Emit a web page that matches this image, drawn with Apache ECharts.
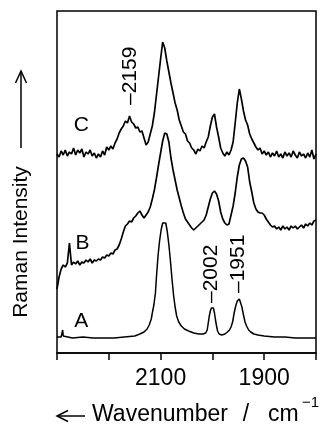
<!DOCTYPE html>
<html>
<head>
<meta charset="utf-8">
<script src="https://cdn.jsdelivr.net/npm/echarts@6/dist/echarts.min.js"></script>
<style>
html,body{margin:0;padding:0;background:#fff;}
#chart{width:326px;height:426px;}
</style>
</head>
<body>
<div id="chart"></div>
<script>
// ---- DATA (intensity in arbitrary units) ----
const wavenumbers = [
2300,2296,2292,2288,2284,2280,2276,2272,2268,2264,
2260,2256,2252,2248,2244,2240,2236,2232,2228,2224,
2220,2216,2212,2208,2204,2200,2196,2192,2188,2184,
2180,2176,2172,2168,2164,2160,2156,2152,2148,2144,
2140,2136,2132,2128,2124,2120,2116,2112,2108,2104,
2100,2096,2092,2088,2084,2080,2076,2072,2068,2064,
2060,2056,2052,2048,2044,2040,2036,2032,2028,2024,
2020,2016,2012,2008,2004,2000,1996,1992,1988,1984,
1980,1976,1972,1968,1964,1960,1956,1952,1948,1944,
1940,1936,1932,1928,1924,1920,1916,1912,1908,1904,
1900,1896,1892,1888,1884,1880,1876,1872,1868,1864,
1860,1856,1852,1848,1844,1840,1836,1832,1828,1824,
1820,1816,1812,1808,1804,1800];

const spectrumC = [
199,196,202,198,203,197,201,199,205,198,
203,200,204,196,201,199,203,197,200,195,
199,196,202,198,206,203,207,204,210,214,
220,224,227,232,230,237,231,229,225,226,
221,222,215,208,211,219,227,240,258,276,
294,311,305,292,281,270,260,250,243,233,
227,221,219,212,210,205,203,199,204,202,
207,205,211,216,227,236,239,226,216,205,
200,197,201,198,203,211,230,250,264,254,
242,233,228,219,214,210,206,203,205,199,
202,198,201,196,200,197,202,196,199,195,
201,197,200,196,202,198,195,201,197,199,
195,200,196,203,194,199];

const spectrumB = [
64,76,84,88,86,90,110,88,91,89,
92,88,91,90,93,91,94,90,93,92,
94,93,96,95,98,97,100,99,103,104,
108,114,121,127,129,132,131,135,137,140,
142,138,135,138,141,146,154,163,175,188,
200,212,220,219,211,195,183,173,163,155,
147,140,134,131,128,125,123,125,127,129,
131,133,138,146,154,160,162,159,152,141,
134,130,128,129,138,147,160,176,188,194,
195,192,186,171,161,150,144,141,140,140,
138,134,131,128,126,127,124,126,123,127,
124,126,123,127,125,127,124,126,128,125,
129,127,130,128,132,133];

const wavenumbersA = [
2300,2292,2290,2289,2288,2286,2270,2250,2230,2210,
2190,2170,2150,2140,2132,2126,2122,2118,2116,2113,
2110,2108,2105,2102,2099,2096,2093,2090,2087,2084,
2081,2078,2075,2072,2069,2065,2060,2054,2046,2036,
2026,2018,2013,2010,2008,2006,2004,2002,2000,1998,
1996,1994,1992,1990,1987,1982,1976,1971,1967,1964,
1961,1958,1955,1952,1950,1948,1946,1943,1940,1937,
1934,1930,1926,1920,1912,1900,1880,1860,1840,1820,
1800];
const spectrumA = [
16,16,18,23,17,16,15,16,15,15,
15,16,17,19,21,24,28,34,40,48,
60,76,97,112,123,130,132,130,121,108,
92,74,58,46,37,31,27,24,22,20,
19,19,20,23,30,37,42,45,47,45,
40,33,27,22,19,18,19,21,23,26,
31,40,47,52,54,54,52,46,38,31,
27,23,21,19,18,17,16,16,15,15,
15];

const traceNames = ['A','B','C'];
const peakWavenumbers = [2159, 2002, 1951];
const tickLabels = [2100, 1900];

// ---- CHART ----
const FONT = 'Liberation Sans';
const pairs = (xs, ys) => xs.map((x, i) => [x, ys[i]]);
const chart = echarts.init(document.getElementById('chart'), null, {renderer: 'canvas'});

const lineSeries = (name, data, width) => ({
  name, type: 'line', data, symbol: 'none', smooth: false, animation: false,
  lineStyle: {color: '#000', width: width}, z: 3
});

chart.setOption({
  backgroundColor: '#fff',
  animation: false,
  grid: {left: 57, right: 10, top: 11, bottom: 73, show: true,
         borderColor: '#000', borderWidth: 1.5, backgroundColor: 'transparent'},
  xAxis: {
    type: 'value', inverse: true, min: 1800, max: 2300, interval: 100,
    axisLine: {show: true, lineStyle: {color: '#000', width: 1.5}},
    axisTick: {show: true, inside: false, length: 7, lineStyle: {color: '#000', width: 1.5}},
    axisLabel: {show: true, margin: 14, color: '#000', fontFamily: FONT, fontSize: 23,
      formatter: v => tickLabels.includes(v) ? String(v) : ''},
    splitLine: {show: false}
  },
  yAxis: {type: 'value', min: 0, max: 342, show: false, splitLine: {show: false}},
  series: [
    lineSeries(traceNames[0], pairs(wavenumbersA, spectrumA), 1.5),
    lineSeries(traceNames[1], pairs(wavenumbers, spectrumB), 1.7),
    lineSeries(traceNames[2], pairs(wavenumbers, spectrumC), 1.7)
  ]
});

// annotations placed through the chart's own scales
const toPx = (w, h) => chart.convertToPixel({gridIndex: 0}, [w, h]);
const graphics = [];
const peakAnchorHeights = [248, 50, 60];
peakWavenumbers.forEach((w, i) => {
  const p = toPx(w, peakAnchorHeights[i]);
  graphics.push({type: 'text', x: p[0], y: p[1], rotation: Math.PI / 2,
    style: {text: '\u2013' + w, font: '21px "' + FONT + '"', fill: '#000',
            align: 'left', verticalAlign: 'middle'}});
});
const nameAnchors = [[2253, 31.5], [2251, 110], [2253, 228]];
traceNames.forEach((n, i) => {
  const p = toPx(nameAnchors[i][0], nameAnchors[i][1]);
  graphics.push({type: 'text', x: p[0], y: p[1],
    style: {text: n, font: '21px "' + FONT + '"', fill: '#000', align: 'center', verticalAlign: 'middle'}});
});
// axis titles
graphics.push({type: 'text', x: 21, y: 242, rotation: Math.PI / 2,
  style: {text: 'Raman Intensity', font: '21px "' + FONT + '"', fill: '#000', align: 'center', verticalAlign: 'middle'}});
graphics.push({type: 'polyline', shape: {points: [[21, 148], [21, 71]]}, style: {stroke: '#000', lineWidth: 1.5, fill: null}});
graphics.push({type: 'polyline', shape: {points: [[15.5, 83], [21, 71], [26.5, 83]]}, style: {stroke: '#000', lineWidth: 1.5, fill: null}});
graphics.push({type: 'polyline', shape: {points: [[57, 416], [85, 416]]}, style: {stroke: '#000', lineWidth: 1.5, fill: null}});
graphics.push({type: 'polyline', shape: {points: [[68, 410.5], [57, 416], [68, 421.5]]}, style: {stroke: '#000', lineWidth: 1.5, fill: null}});
graphics.push({type: 'text', x: 92, y: 415,
  style: {text: 'Wavenumber', font: '23px "' + FONT + '"', fill: '#000', align: 'left', verticalAlign: 'middle'}});
graphics.push({type: 'text', x: 246, y: 415,
  style: {text: '/', font: '23px "' + FONT + '"', fill: '#000', align: 'center', verticalAlign: 'middle'}});
graphics.push({type: 'text', x: 268, y: 415,
  style: {text: 'cm', font: '23px "' + FONT + '"', fill: '#000', align: 'left', verticalAlign: 'middle'}});
graphics.push({type: 'text', x: 302, y: 403,
  style: {text: '\u22121', font: '15px "' + FONT + '"', fill: '#000', align: 'left', verticalAlign: 'middle'}});
chart.setOption({graphic: graphics});
</script>
</body>
</html>
